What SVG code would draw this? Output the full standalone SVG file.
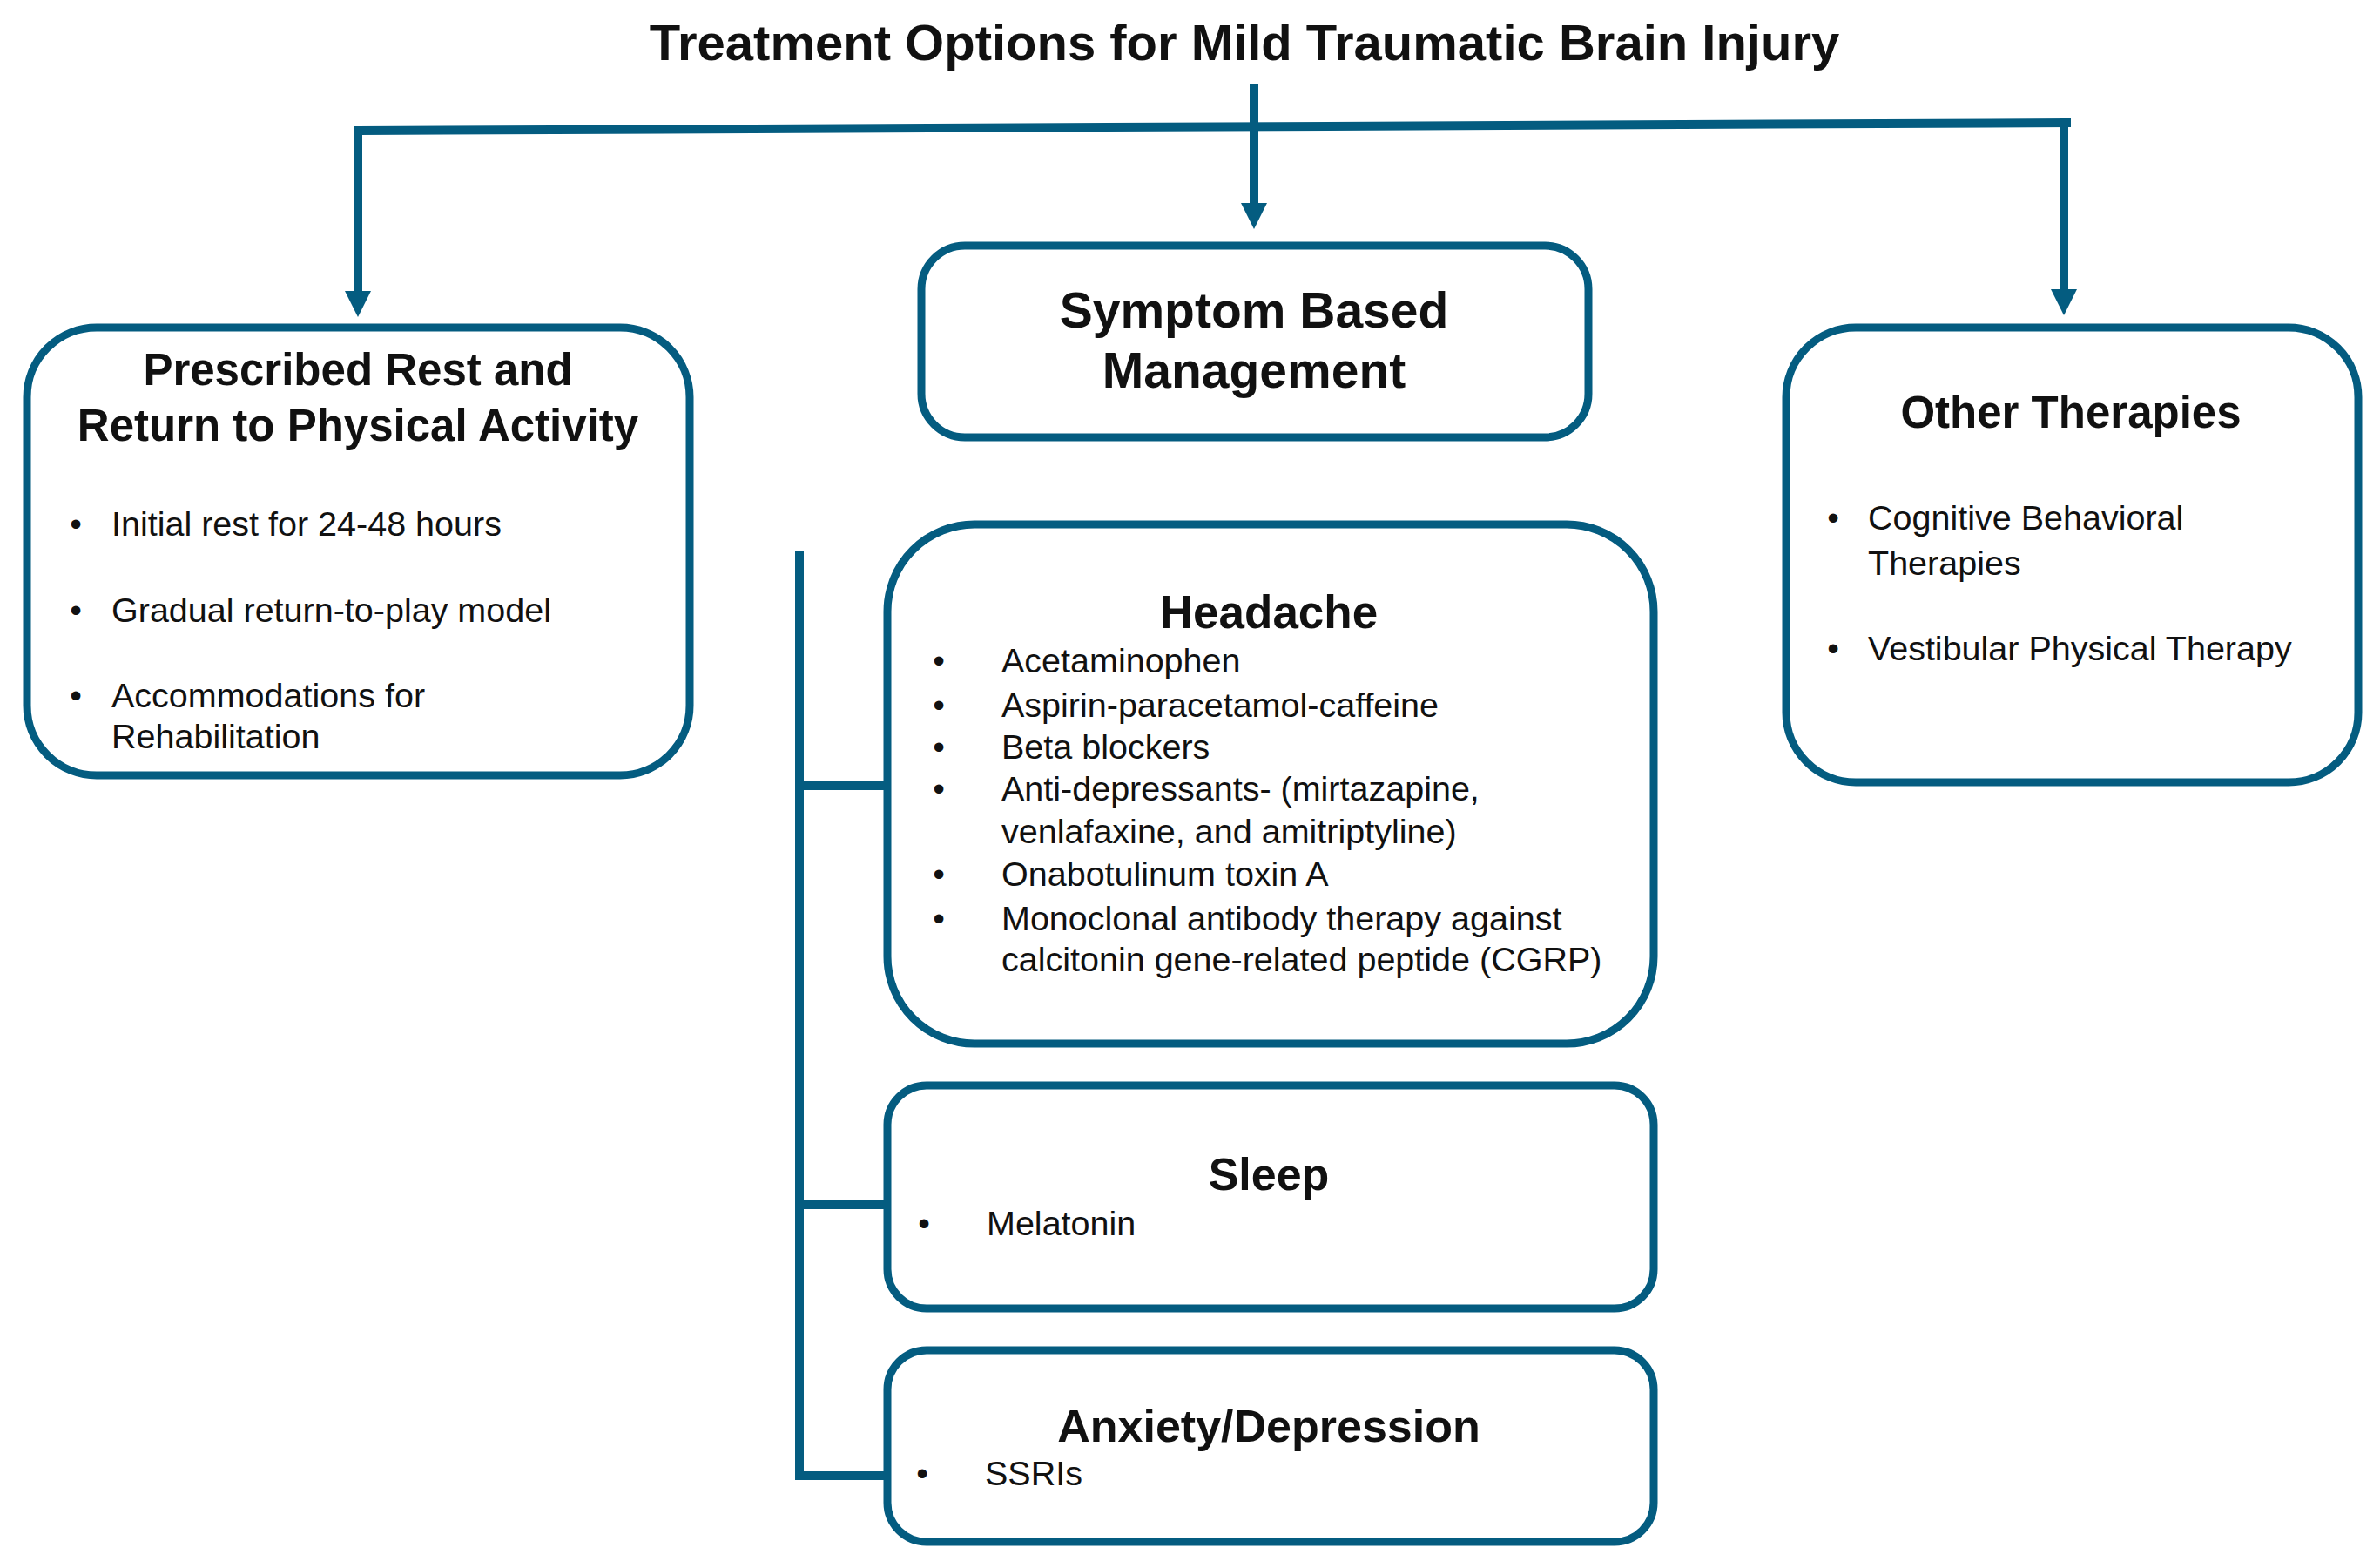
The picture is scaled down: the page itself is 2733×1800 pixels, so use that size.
<svg xmlns="http://www.w3.org/2000/svg" width="2733" height="1800" viewBox="0 0 2733 1800">
<defs>
<style>
.box{fill:#ffffff;stroke:#045c80;stroke-width:9}
.ln{fill:none;stroke:#045c80;stroke-width:10}
.t{font-family:"Liberation Sans",Arial,sans-serif;fill:#111111}
.h{font-weight:bold;text-anchor:middle}
.b{font-size:39.5px}
.bu{font-size:39px;text-anchor:middle}
</style>
<marker id="arr" markerUnits="userSpaceOnUse" markerWidth="30" markerHeight="30" viewBox="0 0 30 30" refX="0" refY="15" orient="auto">
<path d="M0,0 L30,15 L0,30 z" fill="#045c80"/>
</marker>
</defs>
<rect width="2733" height="1800" fill="#ffffff"/>
<text id="title" class="t h" x="1429" y="69" font-size="58">Treatment Options for Mild Traumatic Brain Injury</text>
<g id="connectors">
<path class="ln" d="M411,150 L2378,141"/>
<path class="ln" d="M411,145 V334" marker-end="url(#arr)"/>
<path class="ln" d="M1440,97 V233" marker-end="url(#arr)"/>
<path class="ln" d="M2370,136 V332" marker-end="url(#arr)"/>
<path class="ln" d="M918,633 V1699"/>
<path class="ln" d="M913,902 H1019"/>
<path class="ln" d="M913,1383 H1019"/>
<path class="ln" d="M913,1694 H1019"/>
</g>
<g id="rest">
<rect class="box" x="31" y="376" width="761" height="514" rx="80"/>
<text class="t h" x="411" y="442" font-size="51">Prescribed Rest and</text>
<text class="t h" x="411" y="506" font-size="51">Return to Physical Activity</text>
<text class="t bu" x="87" y="615">•</text>
<text class="t b" x="128" y="615">Initial rest for 24-48 hours</text>
<text class="t bu" x="87" y="714">•</text>
<text class="t b" x="128" y="714">Gradual return-to-play model</text>
<text class="t bu" x="87" y="812">•</text>
<text class="t b" x="128" y="812">Accommodations for</text>
<text class="t b" x="128" y="859">Rehabilitation</text>
</g>
<g id="symptom">
<rect class="box" x="1058" y="282" width="766" height="220" rx="50"/>
<text class="t h" x="1440" y="376" font-size="57">Symptom Based</text>
<text class="t h" x="1440" y="445" font-size="57">Management</text>
</g>
<g id="other">
<rect class="box" x="2051" y="376" width="657" height="522" rx="80"/>
<text class="t h" x="2378" y="491" font-size="51">Other Therapies</text>
<text class="t bu" x="2105" y="608">•</text>
<text class="t b" x="2145" y="608">Cognitive Behavioral</text>
<text class="t b" x="2145" y="660">Therapies</text>
<text class="t bu" x="2105" y="758">•</text>
<text class="t b" x="2145" y="758">Vestibular Physical Therapy</text>
</g>
<g id="headache">
<rect class="box" x="1019" y="602" width="880" height="596" rx="100"/>
<text class="t h" x="1457" y="721" font-size="53">Headache</text>
<text class="t bu" x="1078" y="772">•</text>
<text class="t b" x="1150" y="772">Acetaminophen</text>
<text class="t bu" x="1078" y="823">•</text>
<text class="t b" x="1150" y="823">Aspirin-paracetamol-caffeine</text>
<text class="t bu" x="1078" y="871">•</text>
<text class="t b" x="1150" y="871">Beta blockers</text>
<text class="t bu" x="1078" y="919">•</text>
<text class="t b" x="1150" y="919">Anti-depressants- (mirtazapine,</text>
<text class="t b" x="1150" y="968">venlafaxine, and amitriptyline)</text>
<text class="t bu" x="1078" y="1017">•</text>
<text class="t b" x="1150" y="1017">Onabotulinum toxin A</text>
<text class="t bu" x="1078" y="1068">•</text>
<text class="t b" x="1150" y="1068">Monoclonal antibody therapy against</text>
<text class="t b" x="1150" y="1115">calcitonin gene-related peptide (CGRP)</text>
</g>
<g id="sleep">
<rect class="box" x="1019" y="1246" width="880" height="256" rx="45"/>
<text class="t h" x="1457" y="1366" font-size="52">Sleep</text>
<text class="t bu" x="1061" y="1418">•</text>
<text class="t b" x="1133" y="1418">Melatonin</text>
</g>
<g id="anxiety">
<rect class="box" x="1019" y="1550" width="880" height="220" rx="45"/>
<text class="t h" x="1457" y="1655" font-size="52">Anxiety/Depression</text>
<text class="t bu" x="1059" y="1705">•</text>
<text class="t b" x="1131" y="1705">SSRIs</text>
</g>
</svg>
